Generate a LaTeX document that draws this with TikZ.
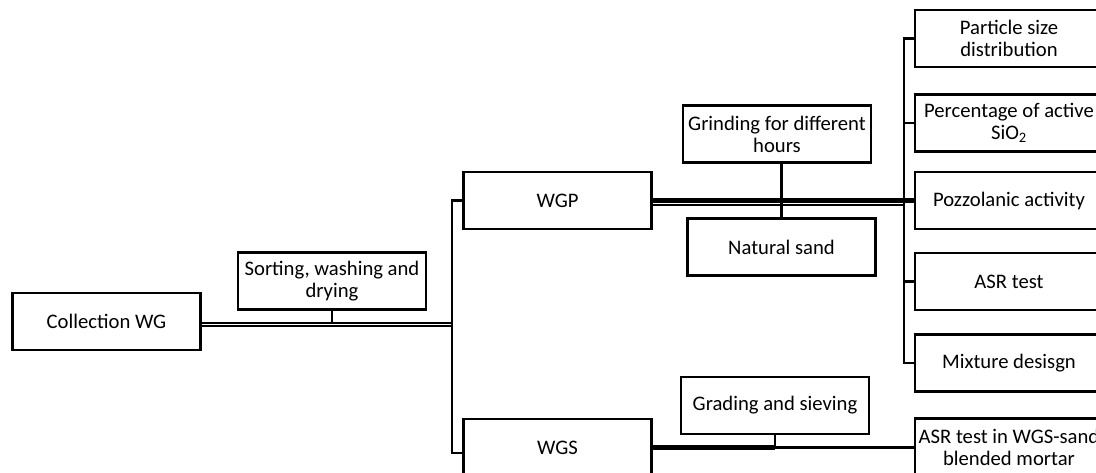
\documentclass[tikz,border=0pt]{standalone}
\usepackage{fontspec}
\setmainfont{Carlito}
\usetikzlibrary{calc}

\begin{document}
\begin{tikzpicture}[x=0.75pt, y=-0.75pt,
  box/.style={draw, line width=1.8pt, minimum width=141pt, minimum height=43pt,
    align=center, inner sep=2pt, font=\fontsize{15.5pt}{16.5pt}\selectfont},
  link/.style={line width=1.7pt},
  heavy/.style={line width=3.4pt}]
\useasboundingbox (0,0) rectangle (1096,473);
\clip (0,0) rectangle (1096,473);
% Boxes
\node[box] (coll) at (106.5,321.5) {Collection WG};
\node[box] (sort) at (332,281) {Sorting, washing and\\drying};
\node[box] (wgp) at (557.5,200.5) {WGP};
\node[box] (wgs) at (557.5,447.5) {WGS};
\node[box] (grind) at (777,134) {Grinding for different\\hours};
\node[box] (sand) at (781.5,247) {Natural sand};
\node[box] (grade) at (775,405.5) {Grading and sieving};
\node[box] (psd) at (1009,38.5) {Particle size\\distribution};
\node[box] (pas) at (1009,123) {Percentage of active\\SiO\textsubscript{2}};
\node[box] (poz) at (1009,200.5) {Pozzolanic activity};
\node[box] (asr) at (1009,281.5) {ASR test};
\node[box] (mix) at (1009,363) {Mixture desisgn};
\node[box] (asrm) at (1009,447) {ASR test in WGS-sand\\blended mortar};
% Trunk
\coordinate (trunk) at ($(wgp.west)+(-10,0)$);
\coordinate (cl1) at ([yshift=-1.1pt]coll.east);
\coordinate (cl2) at ([yshift=-3.6pt]coll.east);
\draw[link] (wgp.west) -- (trunk) |- ([yshift=-4pt]wgs.west);
\draw[link] (cl1) -- (cl1 -| trunk);
\draw[link] (cl2) -- (cl2 -| trunk);
\draw[link] (sort.south) -- (sort.south |- cl1);
% WGP branch
\coordinate (brk) at ($(psd.west)+(-10,0)$);
\coordinate (wl) at ([yshift=-3.5pt]wgp.east);
\draw[link] (psd.west) -- (brk) |- (mix.west);
\draw[link] (brk |- pas.west) -- (pas.west);
\draw[link] (brk |- asr.west) -- (asr.west);
\draw[heavy] (wgp.east) -- (poz.west);
\draw[line width=1.2pt] (wl) -- (wl -| brk);
\draw[link] (grind.south -| sand.north) -- (sand.north);
% WGS branch
\coordinate (gs) at (grade.south |- wgs.east);
\draw[heavy] (wgs.east) -- (gs);
\draw[link] (gs) -- (gs -| asrm.west);
\draw[link] (grade.south) -- (gs);
\end{tikzpicture}
\end{document}
